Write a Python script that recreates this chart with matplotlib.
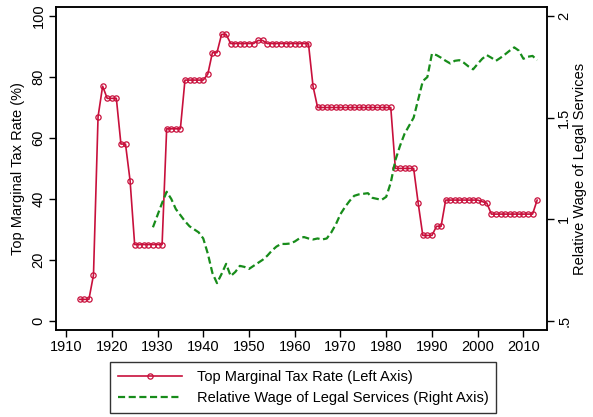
import matplotlib
matplotlib.use("Agg")
import matplotlib.pyplot as plt

plt.rcParams['font.family'] = ['Liberation Sans', 'DejaVu Sans']

# Top marginal income tax rate (%), 1913-2013
tax_years = list(range(1913, 2014))
tax_rate = [7, 7, 7, 15, 67, 77, 73, 73, 73, 58,
            58, 46, 25, 25, 25, 25, 25, 25, 25, 63,
            63, 63, 63, 79, 79, 79, 79, 79, 81, 88,
            88, 94, 94, 91, 91, 91, 91, 91, 91, 92,
            92, 91, 91, 91, 91, 91, 91, 91, 91, 91,
            91, 77, 70, 70, 70, 70, 70, 70, 70, 70,
            70, 70, 70, 70, 70, 70, 70, 70, 70, 50,
            50, 50, 50, 50, 38.5, 28, 28, 28, 31, 31,
            39.6, 39.6, 39.6, 39.6, 39.6, 39.6, 39.6, 39.6, 39.1, 38.6,
            35, 35, 35, 35, 35, 35, 35, 35, 35, 35,
            39.6]

# Relative wage of legal services, 1929-2013
wage_years = list(range(1929, 2014))
rel_wage = [0.96, 1.02, 1.08, 1.135, 1.10, 1.05, 1.02, 0.99, 0.965, 0.95,
            0.935, 0.905, 0.83, 0.735, 0.685, 0.73, 0.78, 0.72, 0.74, 0.77,
            0.765, 0.755, 0.77, 0.785, 0.80, 0.82, 0.845, 0.865, 0.878, 0.878,
            0.88, 0.89, 0.905, 0.912, 0.905, 0.90, 0.905, 0.90, 0.905, 0.935,
            0.975, 1.025, 1.06, 1.09, 1.115, 1.122, 1.125, 1.128, 1.105, 1.10,
            1.095, 1.11, 1.18, 1.29, 1.36, 1.42, 1.46, 1.50, 1.59, 1.68,
            1.70, 1.815, 1.808, 1.795, 1.78, 1.767, 1.78, 1.783, 1.77, 1.752,
            1.738, 1.765, 1.79, 1.808, 1.795, 1.78, 1.795, 1.812, 1.83, 1.846,
            1.83, 1.79, 1.80, 1.804, 1.783]

red = '#c8103c'
green = '#178c1a'
fs = 10.5

fig = plt.figure(figsize=(5.93, 4.17), dpi=100)
ax = fig.add_axes([0.0944, 0.2086, 0.8276, 0.7739])
ax2 = ax.twinx()

l1, = ax.plot(tax_years, tax_rate, color=red, lw=1.2, marker='o', ms=3.8,
              mfc='none', mec=red, mew=0.9,
              label='Top Marginal Tax Rate (Left Axis)')
l2, = ax2.plot(wage_years, rel_wage, color=green, lw=1.6, ls=(0, (3.2, 1.6)),
               label='Relative Wage of Legal Services (Right Axis)')

ax.set_xlim(1907.8, 2015.1)
ax.set_ylim(-3.06, 102.9)
ax2.set_ylim(0.5 - 3.06 * 0.015, 0.5 + 102.9 * 0.015)

ax.set_xticks(range(1910, 2011, 10))
ax.set_yticks(range(0, 101, 20))
ax2.set_yticks([0.5, 1, 1.5, 2])
ax2.set_yticklabels(['.5', '1', '1.5', '2'])

for a in (ax, ax2):
    a.tick_params(direction='out', length=5, width=1, labelsize=fs,
                  color='black', pad=2.5)
    for s in a.spines.values():
        s.set_linewidth(1.1)
        s.set_color('black')
for lab in ax.get_yticklabels() + ax2.get_yticklabels():
    lab.set_rotation(90)
    lab.set_va('center')

ax.set_ylabel('Top Marginal Tax Rate (%)', fontsize=fs, labelpad=5)
ax2.set_ylabel('Relative Wage of Legal Services', fontsize=fs, labelpad=1)

# legend box under the plot
leg = fig.legend(handles=[l1, l2], loc='upper center',
                 bbox_to_anchor=(0.511, 0.132), fontsize=fs, frameon=True,
                 fancybox=False, edgecolor='black', handlelength=4.4,
                 borderpad=0.55, labelspacing=0.5, handletextpad=1.0,
                 borderaxespad=0)
leg.get_frame().set_linewidth(1.0)

fig.savefig('out.png', dpi=100, facecolor='white')
